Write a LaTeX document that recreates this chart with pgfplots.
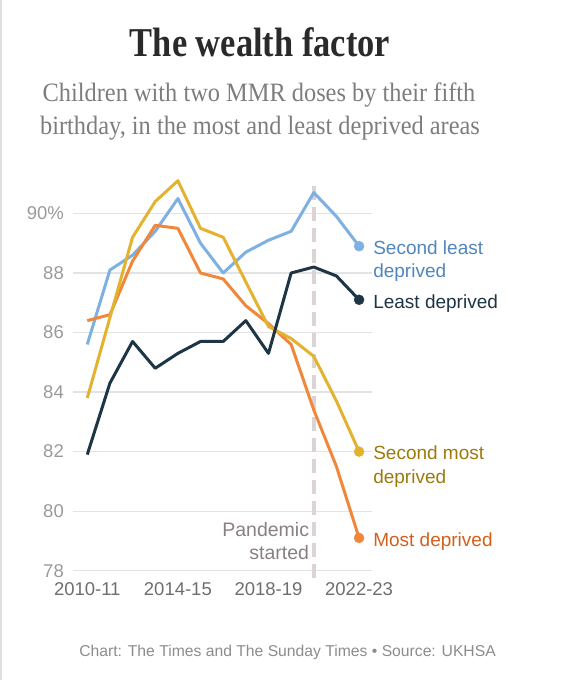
\documentclass[border=0pt]{standalone}
\usepackage{fontspec}
\setmainfont{Liberation Sans}
\newfontfamily\seriffont[FakeStretch=0.92]{Liberation Serif}
\newfontfamily\titlefont[FakeStretch=0.84]{Liberation Serif}
\usepackage{pgfplots}
\pgfplotsset{compat=1.18}
\definecolor{blueline}{HTML}{7EB0E2}
\definecolor{bluetext}{HTML}{4F86BD}
\definecolor{navy}{HTML}{1D3545}
\definecolor{goldline}{HTML}{E3B22F}
\definecolor{goldtext}{HTML}{9C7A0C}
\definecolor{orangeline}{HTML}{F0873A}
\definecolor{orangetext}{HTML}{D2601C}
\definecolor{pandtext}{HTML}{8A7F80}
\definecolor{pandline}{HTML}{DCD3D5}
\definecolor{gridcol}{HTML}{E3E3E3}
\definecolor{xtickcol}{HTML}{6E6E6E}
\definecolor{ytickcol}{HTML}{9A9A9A}
\definecolor{titlecol}{HTML}{2A2A2A}
\definecolor{subcol}{HTML}{7D7D7D}
\definecolor{footcol}{HTML}{8C8C8C}
\definecolor{bordercol}{HTML}{E0E0E0}
\begin{document}
\begin{tikzpicture}[x=1pt,y=1pt]
\useasboundingbox (0,0) rectangle (572,680);
\draw[color=bordercol, line width=1.5pt] (0.75,0) -- (0.75,680);
\node[anchor=base, inner sep=0pt, text=titlecol, font=\titlefont\bfseries\fontsize{41}{45}\selectfont] at (260,623.3) {The wealth factor};
\node[anchor=base, inner sep=0pt, text=subcol, font=\seriffont\fontsize{26.5}{30}\selectfont] at (259,578.3) {Children with two MMR doses by their fifth};
\node[anchor=base, inner sep=0pt, text=subcol, font=\seriffont\fontsize{26.5}{30}\selectfont] at (260,545) {birthday, in the most and least deprived areas};
\node[anchor=base east, inner sep=0pt, text=footcol, font=\fontsize{15.7}{18}\selectfont] at (496,23.3) {Chart: The Times and The Sunday Times \textbullet{} Source: UKHSA};
\begin{axis}[
  at={(73pt,109.3pt)}, anchor=south west,
  scale only axis, width=299pt, height=401.9pt,
  xmin=-0.63, xmax=12.57, ymin=78, ymax=91.5,
  clip=false,
  axis line style={draw=none},
  major tick length=0pt, tick style={draw=none},
  ymajorgrids, grid style={color=gridcol, line width=1.3pt},
  xtick={0,4,8,12}, xticklabels={2010-11,2014-15,2018-19,2022-23},
  ytick={78,80,82,84,86,88,90}, yticklabels={78,80,82,84,86,88,90\%},
  /pgf/number format/assume math mode=true,
  xticklabel style={font=\fontsize{18.5}{20}\selectfont, text=xtickcol, inner sep=0pt, yshift=-12pt},
  yticklabel style={font=\fontsize{18.5}{20}\selectfont, text=ytickcol, inner sep=0pt, xshift=-9pt},
]
\addplot[pandline, line width=4pt, dash pattern=on 14pt off 7pt] coordinates {(10,77.75) (10,91.1)};
\addplot[blueline, line width=3pt, line join=round] coordinates {
(0,85.6) (1,88.1) (2,88.6) (3,89.4) (4,90.5) (5,89.0) (6,88.0) (7,88.7) (8,89.1) (9,89.4) (10,90.7) (11,89.9) (12,88.9)};
\addplot[orangeline, line width=3pt, line join=round] coordinates {
(0,86.4) (1,86.6) (2,88.4) (3,89.6) (4,89.5) (5,88.0) (6,87.8) (7,86.9) (8,86.3) (9,85.6) (10,83.4) (11,81.5) (12,79.1)};
\addplot[goldline, line width=3pt, line join=round] coordinates {
(0,83.8) (1,86.5) (2,89.2) (3,90.4) (4,91.1) (5,89.5) (6,89.2) (7,87.7) (8,86.2) (9,85.8) (10,85.2) (11,83.7) (12,82.0)};
\addplot[navy, line width=3pt, line join=round] coordinates {
(0,81.9) (1,84.3) (2,85.7) (3,84.8) (4,85.3) (5,85.7) (6,85.7) (7,86.4) (8,85.3) (9,88.0) (10,88.2) (11,87.9) (12,87.1)};
\addplot[blueline, only marks, mark=*, mark size=5pt] coordinates {(12,88.9)};
\addplot[orangeline, only marks, mark=*, mark size=5pt] coordinates {(12,79.1)};
\addplot[goldline, only marks, mark=*, mark size=5pt] coordinates {(12,82.0)};
\addplot[navy, only marks, mark=*, mark size=5pt] coordinates {(12,87.1)};
\node[anchor=base west, inner sep=0pt, text=bluetext, font=\fontsize{19}{22}\selectfont, xshift=14pt, yshift=-8.3pt] at (axis cs:12,88.9) {Second least};
\node[anchor=base west, inner sep=0pt, text=bluetext, font=\fontsize{19}{22}\selectfont, xshift=14pt, yshift=-31.8pt] at (axis cs:12,88.9) {deprived};
\node[anchor=base west, inner sep=0pt, text=navy, font=\fontsize{19}{22}\selectfont, xshift=14pt, yshift=-8.3pt] at (axis cs:12,87.1) {Least deprived};
\node[anchor=base west, inner sep=0pt, text=goldtext, font=\fontsize{19}{22}\selectfont, xshift=14pt, yshift=-8.3pt] at (axis cs:12,82.0) {Second most};
\node[anchor=base west, inner sep=0pt, text=goldtext, font=\fontsize{19}{22}\selectfont, xshift=14pt, yshift=-32pt] at (axis cs:12,82.0) {deprived};
\node[anchor=base west, inner sep=0pt, text=orangetext, font=\fontsize{19}{22}\selectfont, xshift=14pt, yshift=-8.8pt] at (axis cs:12,79.1) {Most deprived};
\node[anchor=base east, inner sep=0pt, text=pandtext, font=\fontsize{19.5}{22}\selectfont, xshift=-4.5pt] at (axis cs:10,79.14) {Pandemic};
\node[anchor=base east, inner sep=0pt, text=pandtext, font=\fontsize{19.5}{22}\selectfont, xshift=-4.5pt] at (axis cs:10,78.39) {started};
\end{axis}
\end{tikzpicture}
\end{document}
